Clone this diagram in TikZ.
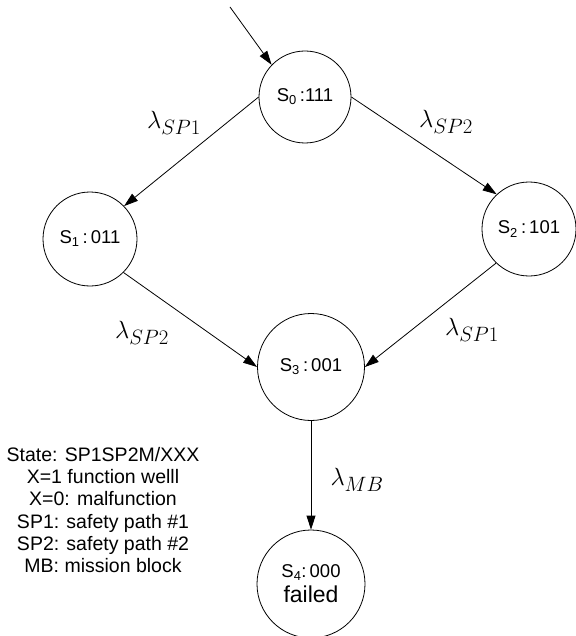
\documentclass[tikz,border=0pt]{standalone}
\usepackage{fontspec}
\setmainfont{Liberation Sans}
\usetikzlibrary{arrows.meta}
\DeclareMathSizes{28}{28}{21}{15}
\begin{document}
\begin{tikzpicture}[x=1pt,y=-1pt,
  state/.style={circle,draw,line width=0.8pt,inner sep=0pt,
    font=\fontsize{18.5}{21}\selectfont},
  trans/.style={line width=0.8pt,-{Triangle[length=14pt,width=9pt]}},
  rate/.style={inner sep=0pt,font=\fontsize{28}{32}\selectfont},
  legend/.style={align=center,inner sep=0pt,font=\fontsize{19.5}{22.3}\selectfont}]
\useasboundingbox (0,0) rectangle (575,636);

% states
\node[state,minimum size=92pt]  (s0) at (305,97)  {S\textsubscript{0}\,:111};
\node[state,minimum size=94pt]  (s1) at (90,239)  {S\textsubscript{1}\,:\,011};
\node[state,minimum size=94pt]  (s2) at (529,229) {S\textsubscript{2}\,:\,101};
\node[state,minimum size=107pt] (s3) at (311,367) {S\textsubscript{3}\,:\,001};
\node[state,minimum size=108pt,align=center] (s4) at (311,584)
  {S\textsubscript{4}:\,000\\[4pt]{\fontsize{23}{25}\selectfont failed}};

% initial transition
\coordinate (init) at (230,7);
\draw[trans] (init) -- (s0.136);

% transitions
\draw[trans] (s0.180) -- (s1.44);
\draw[trans] (s0.0)   -- (s2.133);
\draw[trans] (s1.-45) -- (s3.180);
\draw[trans] (s2.-134) -- (s3.0);
\draw[trans] (s3.south) -- (s4.north);

% failure rates
\node[rate] (r01) at (174,123) {$\lambda_{SP1}$};
\node[rate] (r02) at (446,122) {$\lambda_{SP2}$};
\node[rate] (r13) at (142,333) {$\lambda_{SP2}$};
\node[rate] (r23) at (472,330) {$\lambda_{SP1}$};
\node[rate] (r34) at (357,480) {$\lambda_{MB}$};

% legend
\node[legend] (key) at (103,510) {State: SP1SP2M/XXX\\X=1 function welll\\X=0: malfunction\\SP1: safety path \#1\\SP2: safety path \#2\\MB: mission block};
\end{tikzpicture}
\end{document}
